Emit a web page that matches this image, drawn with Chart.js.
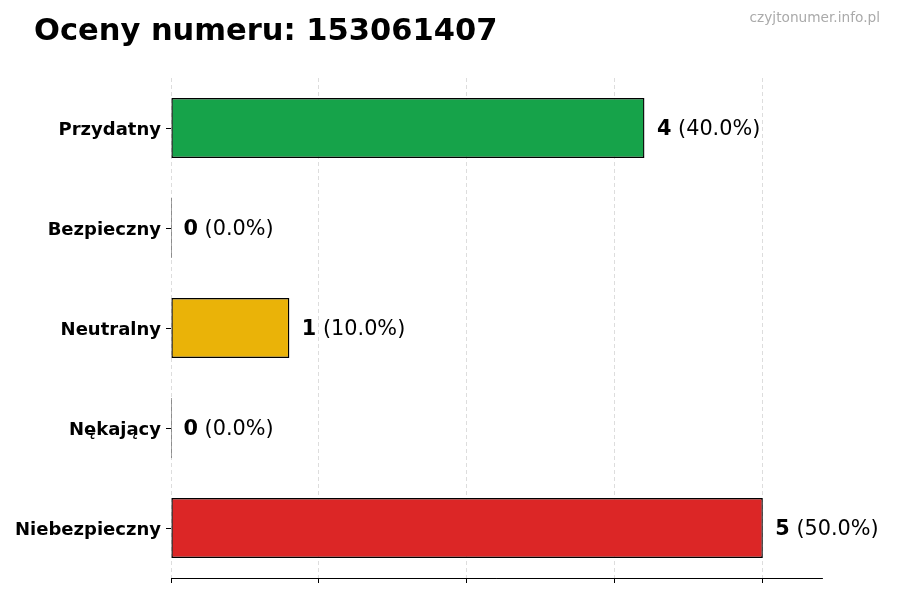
<!DOCTYPE html>
<html>
<head>
<meta charset="utf-8">
<script src="https://cdn.jsdelivr.net/npm/chart.js@4"></script>
<style>
  html, body { margin: 0; padding: 0; background: #fff; }
  #wrap { position: relative; width: 900px; height: 600px; }
  #title { position: absolute; left: 34px; top: 12px; font: bold 30.5px "DejaVu Sans"; color: #000; white-space: nowrap; }
  #wm { position: absolute; right: 20px; top: 9px; font: 13.7px "DejaVu Sans"; color: #aaa; white-space: nowrap; }
  canvas { position: absolute; left: 0; top: 0; }
</style>
</head>
<body>
<div id="wrap">
  <canvas id="c" width="900" height="600"></canvas>
  <div id="title">Oceny numeru: 153061407</div>
  <div id="wm">czyjtonumer.info.pl</div>
</div>
<script>
const categories = ["Przydatny", "Bezpieczny", "Neutralny", "Nękający", "Niebezpieczny"];
const counts = [4, 0, 1, 0, 5];
const percents = ["40.0%", "0.0%", "10.0%", "0.0%", "50.0%"];
const barColors = ["#16a34a", "#2563eb", "#eab308", "#f97316", "#dc2626"];
const xTicks = [0, 1.25, 2.5, 3.75, 5];

const valueLabels = {
  id: 'valueLabels',
  afterDatasetsDraw(chart) {
    const ctx = chart.ctx;
    const meta = chart.getDatasetMeta(0);
    const xs = chart.scales.x;
    ctx.save();
    ctx.textBaseline = 'middle';
    ctx.fillStyle = '#000';
    meta.data.forEach((bar, i) => {
      const x0 = xs.getPixelForValue(counts[i]) + 12.5;
      const y = bar.y + 2;
      ctx.font = 'bold 20.8px "DejaVu Sans"';
      const a = String(counts[i]);
      ctx.fillText(a, x0, y);
      const w = ctx.measureText(a).width;
      ctx.font = '20.8px "DejaVu Sans"';
      ctx.fillText(' (' + percents[i] + ')', x0 + w, y);
    });
    ctx.restore();
  }
};

new Chart(document.getElementById('c'), {
  type: 'bar',
  data: {
    labels: categories,
    datasets: [{
      data: counts,
      backgroundColor: barColors,
      borderColor: '#000',
      borderWidth: 1.4,
      borderSkipped: false,
      barPercentage: 0.6,
      categoryPercentage: 1.0,
      minBarLength: 1
    }]
  },
  options: {
    indexAxis: 'y',
    responsive: false,
    animation: false,
    devicePixelRatio: 1,
    layout: { padding: { top: 78, right: 78, bottom: 17, left: 0 } },
    plugins: { legend: { display: false }, tooltip: { enabled: false }, title: { display: false } },
    scales: {
      x: {
        min: 0, max: 5.5,
        afterBuildTicks(scale) { scale.ticks = xTicks.map(v => ({ value: v })); },
        ticks: { display: false },
        grid: {
          color: '#d4d4d4', lineWidth: 0.8,
          drawTicks: true, tickLength: 5, tickColor: '#000', tickWidth: 1, tickBorderDash: []
        },
        border: { display: true, color: '#000', width: 1, dash: [4, 3] }
      },
      y: {
        afterFit(scale) { scale.width = 171; },
        ticks: { color: '#000', font: { family: 'DejaVu Sans', size: 18, weight: 'bold' }, padding: 5, labelOffset: 2 },
        grid: { offset: false, drawOnChartArea: false, drawTicks: true, tickLength: 5, tickColor: '#000' },
        border: { display: false }
      }
    }
  },
  plugins: [valueLabels]
});
</script>
</body>
</html>
